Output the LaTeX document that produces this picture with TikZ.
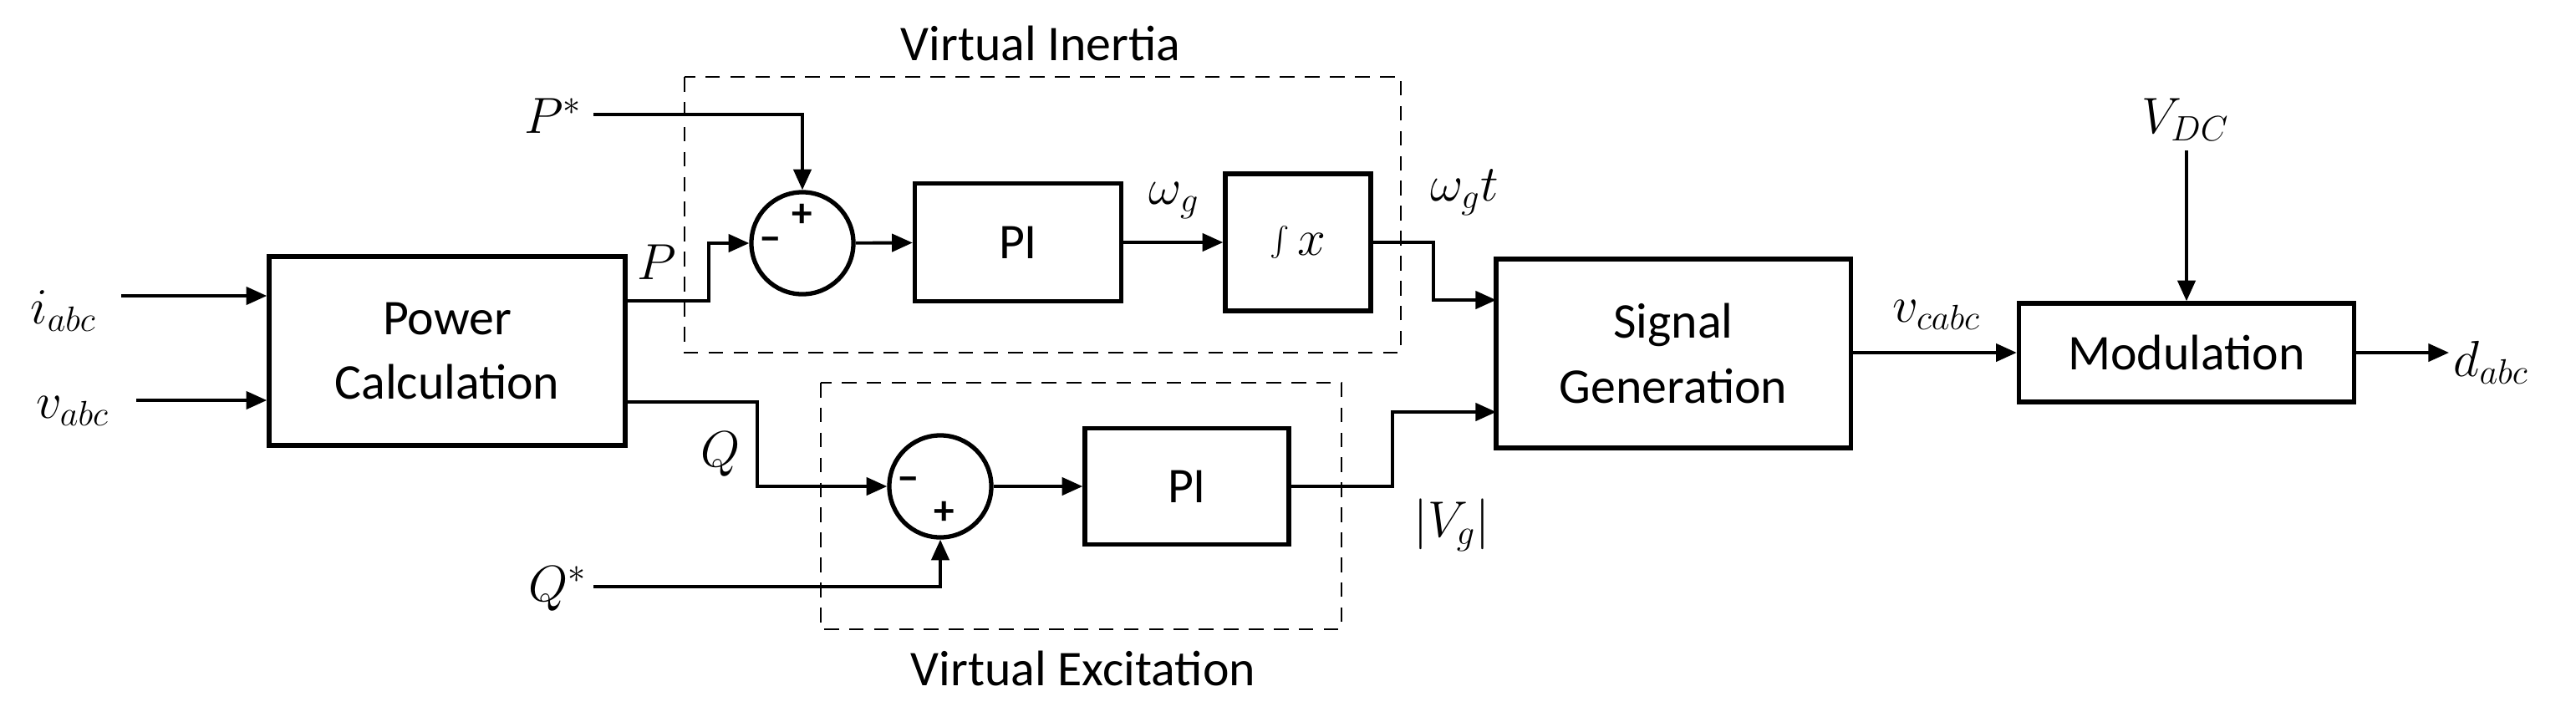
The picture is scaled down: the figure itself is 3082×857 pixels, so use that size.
\documentclass[tikz,border=0pt]{standalone}
\usepackage{fontspec}
\setmainfont{Carlito}
\usetikzlibrary{arrows.meta}
\begin{document}
\begin{tikzpicture}[x=0.01cm,y=-0.01cm,
  blk/.style={draw,line width=1.5pt,font=\fontsize{17}{20}\selectfont,align=center,inner sep=0pt},
  sum/.style={draw,line width=1.5pt,circle,minimum size=1.22cm,inner sep=0pt},
  con/.style={line width=1.1pt,-{Triangle[length=7pt,width=6pt]}},
  lin/.style={line width=1.1pt},
  dbox/.style={draw,dashed,line width=0.7pt,dash pattern=on 5pt off 3.5pt},
  lab/.style={font=\fontsize{18}{20}\selectfont,inner sep=0pt},
  txt/.style={font=\fontsize{17}{20}\selectfont,inner sep=0pt},
  sgn/.style={font=\bfseries\fontsize{14}{14}\selectfont,inner sep=0pt}]
\useasboundingbox (0,0) rectangle (3082,857);
% dashed boxes
\draw[dbox] (819,92) rectangle (1676,422);
\draw[dbox] (982,458) rectangle (1605,753);
\node[txt] (vi) at (1245,52) {Virtual Inertia};
\node[txt] (ve) at (1296,800) {Virtual Excitation};
% blocks
\node[blk,minimum width=4.26cm,minimum height=2.26cm] (pc) at (535,420) {Power\\[2pt]Calculation};
\node[sum] (s1) at (960,291) {};
\node[blk,minimum width=2.47cm,minimum height=1.41cm] (pi1) at (1218,290) {PI};
\node[blk,minimum width=1.74cm,minimum height=1.64cm] (int) at (1553,290) {$\int x$};
\node[sum] (s2) at (1125,582) {};
\node[blk,minimum width=2.44cm,minimum height=1.39cm] (pi2) at (1420,582) {PI};
\node[blk,minimum width=4.24cm,minimum height=2.26cm] (sg) at (2002,423) {Signal\\[2pt]Generation};
\node[blk,minimum width=4.01cm,minimum height=1.18cm] (mod) at (2616,422) {Modulation};
% signs
\node[sgn] (p1) at (960,258) {+};
\node[sgn] (m1) at (922,293) {\textminus};
\node[sgn] (m2) at (1087,580) {\textminus};
\node[sgn] (p2) at (1130,614) {+};
% inputs
\node[lab] (iabc) at (76,372) {$i_{abc}$};
\node[lab] (vabc) at (87,492) {$v_{abc}$};
\coordinate (ia) at (145,354);
\coordinate (va) at (163,479);
\draw[con] (ia) -- (ia -| pc.west);
\draw[con] (va) -- (va -| pc.west);
\node[lab] (ps) at (662,139) {$P^{*}$};
\node[lab] (qs) at (667,705) {$Q^{*}$};
\coordinate (psa) at (710,137);
\coordinate (qsa) at (710,702);
\draw[con] (psa) -| (s1.north);
\draw[con] (qsa) -| (s2.south);
% P and Q
\coordinate (pout) at (748,360);
\coordinate (qout) at (748,481);
\draw[con] (pout) -- (848,360) |- (s1.west);
\draw[con] (qout) -- (906,481) |- (s2.west);
\node[lab] (pl) at (786,314) {$P$};
\node[lab] (ql) at (862,544) {$Q$};
\draw[con] (s1) -- (pi1);
\draw[con] (pi1) -- (int);
\draw[con] (s2) -- (pi2);
\node[lab] (wg) at (1405,240) {$\omega_g$};
\coordinate (sgt) at (1790,359);
\coordinate (sgb) at (1790,493);
\draw[con] (int.east) -- (1715,290) |- (sgt);
\draw[con] (pi2.east) -- (1666,582) |- (sgb);
\node[lab] (wgt) at (1752,230) {$\omega_g t$};
\node[lab] (vg) at (1737,628) {$\left|V_g\right|$};
\draw[con] (sg.east |- mod.west) -- (mod.west);
\node[lab] (vc) at (2317,377) {$v_{cabc}$};
\node[lab] (vdc) at (2615,143) {$V_{DC}$};
\coordinate (vdca) at (2616,180);
\draw[con] (vdca) -- (mod.north);
\coordinate (dend) at (2930,422);
\draw[con] (mod.east) -- (dend);
\node[lab,anchor=west] (dl) at (2935,434) {$d_{abc}$};
\end{tikzpicture}
\end{document}
